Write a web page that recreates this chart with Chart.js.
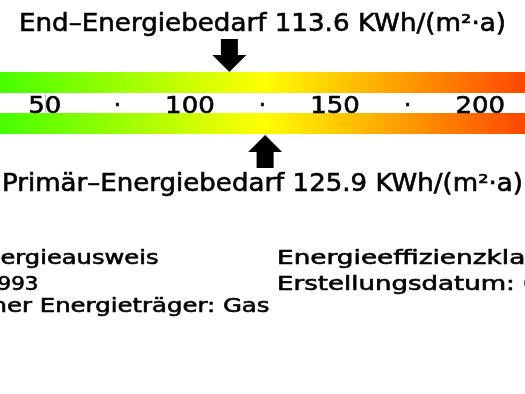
<!DOCTYPE html>
<html lang="de">
<head>
<meta charset="utf-8">
<title>Energiebedarf</title>
<script src="https://cdn.jsdelivr.net/npm/chart.js@4.4.1/dist/chart.umd.min.js"></script>
<style>
  html, body { margin: 0; padding: 0; background: #fff; overflow: hidden; }
  #wrap { position: relative; width: 525px; height: 394px; }
</style>
</head>
<body>
<div id="wrap"><canvas id="energyChart" width="525" height="394"></canvas></div>
<script>
// values
const rows = ['Endenergie', 'Skala', 'Primärenergie'];
const scaleRange = [0, 250];          // whole colour scale
const visibleRange = [34.6, 215.4];   // part of the scale that is in view
const endEnergy = 113.6;
const primaryEnergy = 125.9;
const tickValues = [50, 75, 100, 125, 150, 175, 200];
const tickLabels = ['50', '·', '100', '·', '150', '·', '200'];
const infoLeft = ['Energieausweis', 'Baujahr: 1993', 'Wesentlicher Energieträger: Gas'];
const infoRight = ['Energieeffizienzklasse: D', 'Erstellungsdatum: 01.09.2014'];

const FONT = '"DejaVu Sans", Verdana, sans-serif';

function stretchText(ctx, text, x, y, size, sx, align) {
    ctx.save();
    ctx.font = size + 'px ' + FONT;
    ctx.textAlign = align;
    ctx.textBaseline = 'alphabetic';
    ctx.fillStyle = '#000';
    ctx.strokeStyle = '#000';
    ctx.lineWidth = 0.6;
    ctx.lineJoin = 'round';
    ctx.translate(x, y);
    ctx.scale(sx, 1);
    ctx.fillText(text, 0, 0);
    ctx.strokeText(text, 0, 0);
    ctx.restore();
}

function fitText(ctx, text, x, y, size, width) {
    ctx.font = size + 'px ' + FONT;
    const sx = width / ctx.measureText(text).width;
    stretchText(ctx, text, x, y, size, sx, 'center');
}

// dir 1 = points down, -1 = points up
function drawArrow(ctx, x, tipY, dir) {
    const headH = 17, headW = 17, stemW = 8.5, stemH = 16;
    ctx.beginPath();
    ctx.moveTo(x, tipY);
    ctx.lineTo(x - headW, tipY - dir * headH);
    ctx.lineTo(x - stemW, tipY - dir * headH);
    ctx.lineTo(x - stemW, tipY - dir * (headH + stemH));
    ctx.lineTo(x + stemW, tipY - dir * (headH + stemH));
    ctx.lineTo(x + stemW, tipY - dir * headH);
    ctx.lineTo(x + headW, tipY - dir * headH);
    ctx.closePath();
    ctx.fillStyle = '#000';
    ctx.fill();
}

function scaleGradient(context) {
    const chart = context.chart;
    if (!chart.chartArea) return null;
    const x = chart.scales.x;
    const g = chart.ctx.createLinearGradient(
        x.getPixelForValue(scaleRange[0]), 0, x.getPixelForValue(scaleRange[1]), 0);
    g.addColorStop(0, '#00ff00');
    g.addColorStop(0.5, '#ffff00');
    g.addColorStop(1, '#ff0000');
    return g;
}

const energyLabels = {
    id: 'energyLabels',
    beforeDatasetsDraw(chart) {
        const ctx = chart.ctx;
        const x = Math.round(chart.scales.x.getPixelForValue(tickValues[0])) + 0.5;
        ctx.save();
        ctx.strokeStyle = '#c8c8c8';
        ctx.lineWidth = 1;
        ctx.beginPath();
        ctx.moveTo(x, chart.chartArea.top);
        ctx.lineTo(x, chart.chartArea.bottom);
        ctx.stroke();
        ctx.restore();
    },
    afterDraw(chart) {
        const ctx = chart.ctx;
        const xs = chart.scales.x;
        const ys = chart.scales.y;
        const bars = chart.getDatasetMeta(0).data;
        const topBar = bars[0], bottomBar = bars[2];

        // scale labels between the two bars
        const rowY = ys.getPixelForValue(1) + 9.5;
        tickValues.forEach((v, i) => {
            const sx = tickLabels[i] === '·' ? 1.0 : 1.13;
            stretchText(ctx, tickLabels[i], xs.getPixelForValue(v), rowY, 23, sx, 'center');
        });

        // arrows
        drawArrow(ctx, xs.getPixelForValue(endEnergy), topBar.y - topBar.height / 2, 1);
        drawArrow(ctx, xs.getPixelForValue(primaryEnergy), bottomBar.y + bottomBar.height / 2 + 1, -1);

        // headings, centred on the middle of the colour scale
        const mid = xs.getPixelForValue((scaleRange[0] + scaleRange[1]) / 2);
        fitText(ctx, 'End–Energiebedarf ' + endEnergy.toFixed(1) + ' KWh/(m²·a)', mid, 31, 24, 487);
        fitText(ctx, 'Primär–Energiebedarf ' + primaryEnergy.toFixed(1) + ' KWh/(m²·a)', mid, 191, 24, 521);

        // info block below
        stretchText(ctx, infoLeft[0], 158.5, 263.5, 19.5, 1.24, 'right');
        stretchText(ctx, infoLeft[1], 38.5, 290, 19.5, 1.1, 'right');
        stretchText(ctx, infoLeft[2], 269.5, 311.5, 19.5, 1.25, 'right');
        stretchText(ctx, infoRight[0], 277, 263.5, 19.5, 1.35, 'left');
        stretchText(ctx, infoRight[1], 277, 290, 19.5, 1.335, 'left');
    }
};

const ctx = document.getElementById('energyChart').getContext('2d');
new Chart(ctx, {
    type: 'bar',
    data: {
        labels: rows,
        datasets: [{
            data: [scaleRange, null, scaleRange],
            backgroundColor: scaleGradient,
            borderWidth: 0,
            barPercentage: 1,
            categoryPercentage: 1
        }]
    },
    options: {
        indexAxis: 'y',
        responsive: false,
        animation: false,
        events: [],
        layout: {
            padding: { left: 0, right: 0, top: 72, bottom: 260 }
        },
        plugins: {
            legend: { display: false },
            tooltip: { enabled: false }
        },
        scales: {
            x: {
                type: 'linear',
                min: visibleRange[0],
                max: visibleRange[1],
                display: false
            },
            y: {
                type: 'category',
                display: false
            }
        }
    },
    plugins: [energyLabels]
});
</script>
</body>
</html>
